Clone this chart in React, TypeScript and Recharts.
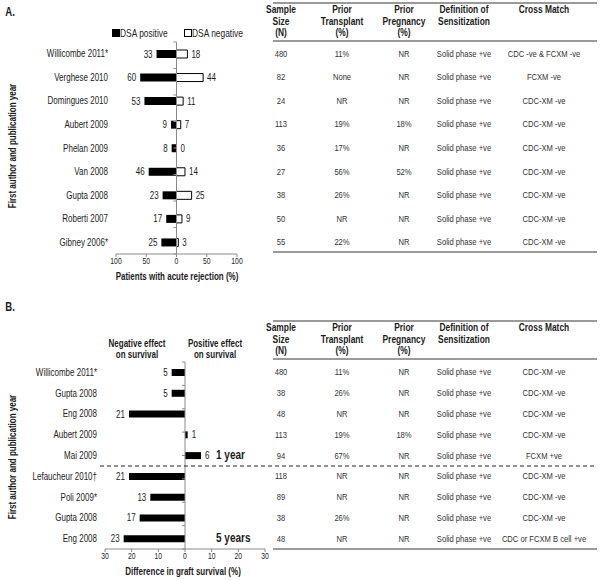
import { BarChart, Bar, XAxis, YAxis, ReferenceLine, LabelList } from 'recharts'

const FONT = "'Liberation Sans', Arial, sans-serif"
const NARROW = 0.8 // the original uses a narrow face; squeeze Arial-metric text
const INK = '#1c1c1c'
const AXIS = '#8a8a8a'

// ---- panel A: acute rejection ----
const studiesA = ['Willicombe 2011*', 'Verghese 2010', 'Domingues 2010', 'Aubert 2009', 'Phelan 2009', 'Van 2008', 'Gupta 2008', 'Roberti 2007', 'Gibney 2006*']
const dsaPositive = [33, 60, 53, 9, 8, 46, 23, 17, 25]
const dsaNegative = [18, 44, 11, 7, 0, 14, 25, 9, 3]
const ticksA = [-100, -50, 0, 50, 100]
const sampleA = ['480', '82', '24', '113', '36', '27', '38', '50', '55']
const transplantA = ['11%', 'None', 'NR', '19%', '17%', '56%', '26%', 'NR', '22%']
const pregnancyA = ['NR', 'NR', 'NR', '18%', 'NR', '52%', 'NR', 'NR', 'NR']
const definitionA = Array(9).fill('Solid phase +ve')
const crossA = ['CDC -ve & FCXM -ve', 'FCXM -ve', 'CDC-XM -ve', 'CDC-XM -ve', 'CDC-XM -ve', 'CDC-XM -ve', 'CDC-XM -ve', 'CDC-XM -ve', 'CDC-XM -ve']

// ---- panel B: graft survival ----
const studiesB = ['Willicombe 2011*', 'Gupta 2008', 'Eng 2008', 'Aubert 2009', 'Mai 2009', 'Lefaucheur 2010\u2020', 'Poli 2009*', 'Gupta 2008', 'Eng 2008']
const graftDiff = [-5, -5, -21, 1, 6, -21, -13, -17, -23]
const ticksB = [-30, -20, -10, 0, 10, 20, 30]
const sampleB = ['480', '38', '48', '113', '94', '118', '89', '38', '48']
const transplantB = ['11%', '26%', 'NR', '19%', '67%', 'NR', 'NR', '26%', 'NR']
const pregnancyB = ['NR', 'NR', 'NR', '18%', 'NR', 'NR', 'NR', 'NR', 'NR']
const definitionB = Array(9).fill('Solid phase +ve')
const crossB = ['CDC-XM -ve', 'CDC-XM -ve', 'CDC-XM -ve', 'CDC-XM -ve', 'FCXM +ve', 'CDC-XM -ve', 'CDC-XM -ve', 'CDC-XM -ve', 'CDC or FCXM B cell +ve']

const headers = ['Sample\nSize\n(N)', 'Prior\nTransplant\n(%)', 'Prior\nPregnancy\n(%)', 'Definition of\nSensitization', 'Cross Match']
const legendItems = [
  { name: 'DSA positive', fill: '#000', x: 112 },
  { name: 'DSA negative', fill: '#fff', x: 184 },
]
const bandEdges = [0, 1, 2, 3, 4, 5, 6, 7, 8, 9]

const rowsA = studiesA.map((name, i) => ({ id: i, name, pos: -dsaPositive[i], neg: dsaNegative[i] }))
const rowsB = studiesB.map((name, i) => ({ id: i, name, diff: graftDiff[i] }))

// plot geometry (pixels)
const A = { top: 42, height: 212 }
const B = { top: 362, height: 187 }
const COLS = [281, 342, 404, 464, 544]

function NarrowText({ x, y, anchor, size, children, dy, weight = 400 }: any) {
  return (
    <g transform={`translate(${x},${y}) scale(${NARROW},1)`}>
      <text textAnchor={anchor} dy={dy} fontSize={size} fontFamily={FONT} fontWeight={weight} fill={INK}>{children}</text>
    </g>
  )
}

function barBox(props: any) {
  const vb = props.viewBox ?? {}
  const x = Number(props.x ?? vb.x)
  const y = Number(props.y ?? vb.y)
  const w = Number(props.width ?? vb.width ?? 0)
  const h = Number(props.height ?? vb.height ?? 0)
  return { left: Math.min(x, x + w), right: Math.max(x, x + w), mid: y + h / 2 }
}

// label outside the end of a bar, on the side of its sign
function sideLabel(props: any) {
  const { left, right, mid } = barBox(props)
  const v = Number(props.value)
  const neg = v < 0
  return (
    <NarrowText x={neg ? left - 4 : right + 4} y={mid} anchor={neg ? 'end' : 'start'} size={10} dy="0.35em">
      {Math.abs(v)}
    </NarrowText>
  )
}

// DSA-positive label; also prints a zero DSA-negative value, whose bar has no width
function posLabelA(props: any) {
  const { right, mid } = barBox(props)
  const other = dsaNegative[props.index]
  return (
    <g>
      {sideLabel(props)}
      {other === 0 && (
        <NarrowText x={right + 4} y={mid} anchor="start" size={10} dy="0.35em">{other}</NarrowText>
      )}
    </g>
  )
}

const xTick = (props: any) => (
  <NarrowText x={props.x} y={props.y} anchor="middle" size={8.5} dy="0.71em">
    {Math.abs(props.payload.value)}
  </NarrowText>
)
const yTick = (names: string[]) => (props: any) => (
  <NarrowText x={props.x} y={props.y} anchor="end" size={10} dy="0.35em">
    {names[props.payload.value]}
  </NarrowText>
)

function T({ x, y, children, size = 10, bold = false, rotate = false, style = {} }: any) {
  return (
    <div style={{
      position: 'absolute', left: x, top: y,
      transform: `translate(-50%, -50%)${rotate ? ' rotate(-90deg)' : ''} scaleX(${NARROW})`,
      whiteSpace: 'nowrap', lineHeight: 1, fontSize: size,
      fontWeight: bold ? 700 : 400, textAlign: 'center', ...style,
    }}>
      {children}
    </div>
  )
}

function Rule({ y }: { y: number }) {
  return <div style={{ position: 'absolute', left: 273, width: 324, top: y - 1, height: 2, background: '#9a9a9a' }} />
}

function StudyTable({ top, bottom, plot, cols }: { top: number; bottom: number; plot: { top: number; height: number }; cols: string[][] }) {
  const step = plot.height / 9
  return (
    <>
      <Rule y={top} />
      <Rule y={top + 38} />
      <Rule y={bottom} />
      {headers.map((h, c) => (
        <div key={c} style={{
          position: 'absolute', left: COLS[c] - 50, width: 100, top: top + 1,
          textAlign: 'center', whiteSpace: 'pre-line', fontWeight: 700,
          fontSize: 10.5, lineHeight: '11.7px', transform: `scaleX(${NARROW})`,
        }}>{h}</div>
      ))}
      {cols.map((col, c) => col.map((v, i) => (
        <T key={c + '-' + i} x={COLS[c]} y={plot.top + step * (i + 0.5)} size={9.5} style={{ color: '#333' }}>{v}</T>
      )))}
    </>
  )
}

function Legend() {
  return (
    <>
      {legendItems.map(l => (
        <div key={l.name}>
          <div style={{ position: 'absolute', left: l.x, top: 29, width: 6, height: 6, background: l.fill, border: '1px solid #000' }} />
          <div style={{
            position: 'absolute', left: l.x + 8, top: 27, fontSize: 10.5, lineHeight: '12px',
            whiteSpace: 'nowrap', transform: `scaleX(${NARROW})`, transformOrigin: 'left center',
          }}>{l.name}</div>
        </div>
      ))}
    </>
  )
}

const boldLeft = (x: number, y: number, text: string) => (
  <div style={{
    position: 'absolute', left: x, top: y, fontWeight: 700, fontSize: 12.5, lineHeight: '13px',
    whiteSpace: 'nowrap', transform: `scaleX(${NARROW})`, transformOrigin: 'left center',
  }}>{text}</div>
)

const effectNote = (x: number, text: string) => (
  <div style={{
    position: 'absolute', left: x, top: 349, transform: `translate(-50%, -50%) scaleX(${NARROW})`,
    textAlign: 'center', fontWeight: 700, fontSize: 10, lineHeight: '11px', whiteSpace: 'pre-line',
  }}>{text}</div>
)

export default function App() {
  return (
    <div style={{ position: 'absolute', left: 0, top: 0, width: 600, height: 580, fontFamily: FONT, color: INK, background: '#fff' }}>
      <T x={10} y={12} size={12} bold>A.</T>
      <T x={10} y={307} size={12} bold>B.</T>

      <Legend />

      <div style={{ position: 'absolute', left: 0, top: 0 }}>
        <BarChart width={275} height={290} data={rowsA} layout="vertical" stackOffset="sign"
          margin={{ top: A.top, right: 38, bottom: 4, left: 0 }}>
          <XAxis type="number" domain={[-100, 100]} ticks={ticksA} interval={0}
            stroke={AXIS} tickSize={3} tickMargin={1} height={32} tick={xTick} />
          <YAxis type="category" dataKey="id" width={116} interval={0}
            axisLine={false} tickLine={false} tick={yTick(studiesA)} />
          <YAxis yAxisId="grid" type="number" domain={[0, 9]} hide />
          <ReferenceLine x={0} stroke={AXIS} />
          {bandEdges.map(k => (
            <ReferenceLine key={k} yAxisId="grid" segment={[{ x: -5, y: k }, { x: 0, y: k }]} stroke={AXIS} />
          ))}
          <Bar dataKey="pos" stackId="a" fill="#000" barSize={8} isAnimationActive={false}>
            <LabelList dataKey="pos" content={posLabelA} />
          </Bar>
          <Bar dataKey="neg" stackId="a" fill="#fff" stroke="#000" strokeWidth={1} barSize={8} isAnimationActive={false}>
            <LabelList dataKey="neg" content={sideLabel} />
          </Bar>
        </BarChart>
      </div>

      <div style={{ position: 'absolute', left: 0, top: 290 }}>
        <BarChart width={280} height={290} data={rowsB} layout="vertical"
          margin={{ top: B.top - 290, right: 15, bottom: 3, left: 0 }}>
          <XAxis type="number" domain={[-30, 30]} ticks={ticksB} interval={0}
            stroke={AXIS} tickSize={3} tickMargin={1} height={28} tick={xTick} />
          <YAxis type="category" dataKey="id" width={105} interval={0}
            axisLine={false} tickLine={false} tick={yTick(studiesB)} />
          <YAxis yAxisId="grid" type="number" domain={[0, 9]} hide />
          <ReferenceLine x={0} stroke={AXIS} />
          {bandEdges.map(k => (
            <ReferenceLine key={k} yAxisId="grid" segment={[{ x: -1.1, y: k }, { x: 0, y: k }]} stroke={AXIS} />
          ))}
          <Bar dataKey="diff" fill="#000" barSize={7} isAnimationActive={false}>
            <LabelList dataKey="diff" content={sideLabel} />
          </Bar>
        </BarChart>
      </div>

      {/* axis titles */}
      <T x={13} y={146} size={10} bold rotate>First author and publication year</T>
      <T x={177} y={277} size={10} bold>Patients with acute rejection (%)</T>
      <T x={13} y={457} size={10} bold rotate>First author and publication year</T>
      <T x={183} y={572} size={10} bold>Difference in graft survival (%)</T>

      {effectNote(137, 'Negative effect\non survival')}
      {effectNote(215, 'Positive effect\non survival')}
      {boldLeft(216, 449, '1 year')}
      {boldLeft(216, 532, '5 years')}

      <svg style={{ position: 'absolute', left: 0, top: 0 }} width={600} height={580} pointerEvents="none">
        <line x1={100} x2={597} y1={466} y2={466} stroke="#222" strokeDasharray="4 3" />
      </svg>

      <StudyTable top={3} bottom={252} plot={A} cols={[sampleA, transplantA, pregnancyA, definitionA, crossA]} />
      <StudyTable top={321} bottom={549} plot={B} cols={[sampleB, transplantB, pregnancyB, definitionB, crossB]} />
    </div>
  )
}
